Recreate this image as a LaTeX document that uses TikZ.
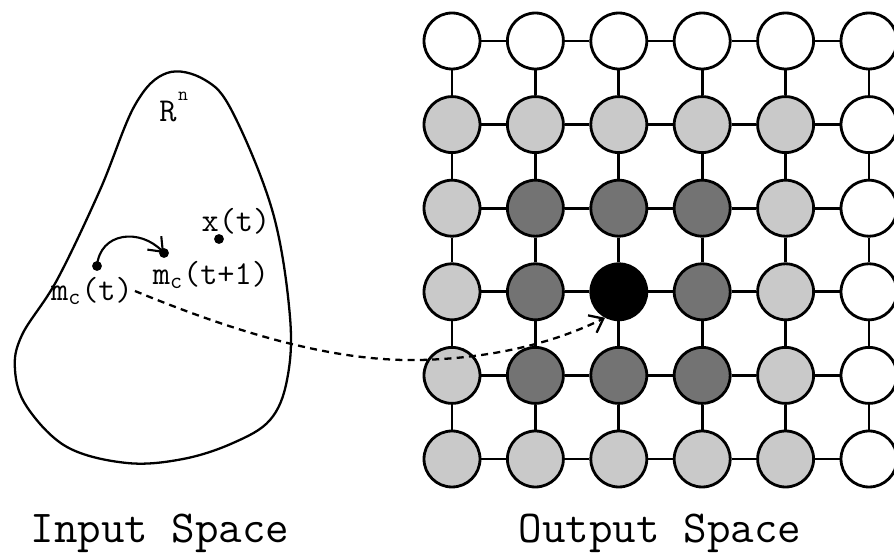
\documentclass[tikz,border=0pt]{standalone}
\usepackage{fontspec}
\usetikzlibrary{arrows.meta}
\definecolor{shade0}{gray}{0}
\definecolor{shade1}{gray}{0.45}
\definecolor{shade2}{gray}{0.79}
\definecolor{shade3}{gray}{1}
\tikzset{
  cell/.style={circle,draw,line width=1.6pt,minimum size=1.12cm,inner sep=0pt},
  link/.style={line width=1.6pt},
  lbl/.style={font=\fontsize{19}{21}\ttfamily,inner sep=1pt},
  title/.style={font=\fontsize{26}{30}\ttfamily}
}
\begin{document}
\begin{tikzpicture}[x=0.02cm,y=-0.02cm,>={Straight Barb[length=7pt,width=11pt]}]
\useasboundingbox (0,0) rectangle (894,557);
% Input space
\draw[line width=1.3pt] plot[smooth cycle,tension=0.6] coordinates
  {(167,73) (205,80) (233,113) (273,213) (290,317) (287,380) (270,420)
   (233,443) (183,459) (127,463) (67,447) (27,407) (15,370) (22,335)
   (57,280) (100,190) (135,105)};
\node[font=\fontsize{19}{21}\ttfamily] (lr) at (168,112) {R};
\node[font=\fontsize{11}{12}\ttfamily] at (183,96) {n};
\coordinate (mct) at (97,266);
\coordinate (mct1) at (164,253);
\coordinate (xt) at (219,239);
\foreach \p in {mct,mct1,xt} \fill (\p) circle (2.8pt);
\node[lbl] (lxt) at (236,221) {x(t)};
\node[lbl] (lmct) at (92,291) {m\textsubscript{c}(t)};
\node[lbl] (lmct1) at (211,275) {m\textsubscript{c}(t+1)};
\draw[->,line width=1.2pt] (mct) .. controls (100,232) and (140,228) .. (mct1);
% Output space
\foreach \r in {0,...,5}
  \foreach \c in {0,...,5}{
    \pgfmathtruncatemacro\d{max(abs(\r-3),abs(\c-2))}
    \node[cell,fill=shade\d] (c\r\c) at (452+83.4*\c,41+83.6*\r) {};
  }
\foreach \r in {0,...,5}
  \foreach \c in {0,...,4}{
    \pgfmathtruncatemacro\nx{\c+1}
    \draw[link] (c\r\c) -- (c\r\nx);
    \draw[link] (c\c\r) -- (c\nx\r);
  }
% Mapping
\draw[->,line width=1.3pt,dash pattern=on 4pt off 3pt]
  (lmct.east) .. controls (230,330) and (330,362) .. (420,360)
  .. controls (500,358) and (560,340) .. (c32.-118);
\node[title] (tin) at (160,533) {Input Space};
\node[title] (tout) at (660,533) {Output Space};
\end{tikzpicture}
\end{document}
